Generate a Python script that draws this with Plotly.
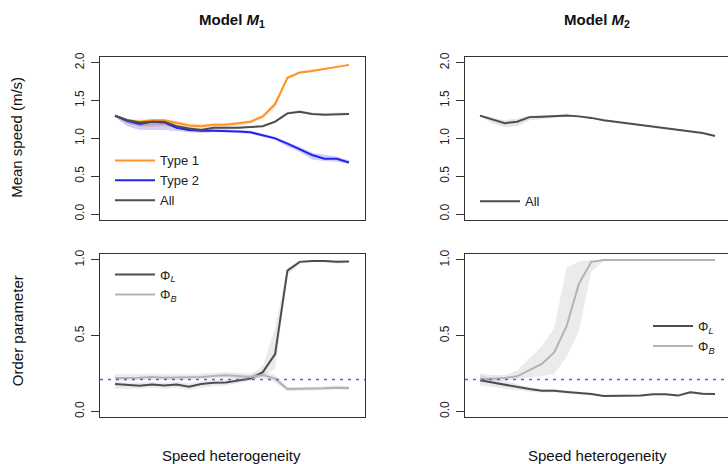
import plotly.graph_objects as go

# ---------------- data ----------------
het = [0, 1, 2, 3, 4, 5, 6, 7, 8, 9, 10, 11, 12, 13, 14, 15, 16, 17, 18, 19]

# Model M1 - mean speed
type1 = [1.30, 1.24, 1.22, 1.24, 1.24, 1.20, 1.17, 1.16, 1.18, 1.18, 1.20, 1.22, 1.29, 1.45, 1.80, 1.87, 1.89, 1.92, 1.94, 1.97]
type1_lo = [1.28, 1.19, 1.15, 1.15, 1.16, 1.14, 1.13, 1.12, 1.14, 1.15, 1.17, 1.20, 1.26, 1.40, 1.77, 1.85, 1.88, 1.91, 1.93, 1.96]
type1_hi = [1.31, 1.26, 1.25, 1.26, 1.26, 1.23, 1.20, 1.19, 1.20, 1.20, 1.22, 1.24, 1.31, 1.50, 1.82, 1.89, 1.91, 1.93, 1.95, 1.98]

type2 = [1.30, 1.23, 1.19, 1.22, 1.21, 1.14, 1.11, 1.10, 1.10, 1.10, 1.09, 1.08, 1.04, 1.00, 0.93, 0.86, 0.78, 0.73, 0.73, 0.68]
type2_lo = [1.28, 1.16, 1.11, 1.11, 1.11, 1.09, 1.08, 1.07, 1.08, 1.08, 1.07, 1.06, 1.02, 0.98, 0.89, 0.82, 0.72, 0.70, 0.69, 0.66]
type2_hi = [1.31, 1.25, 1.22, 1.23, 1.22, 1.16, 1.13, 1.12, 1.12, 1.12, 1.11, 1.10, 1.06, 1.02, 0.95, 0.89, 0.81, 0.78, 0.76, 0.71]

all_m1 = [1.30, 1.24, 1.21, 1.22, 1.22, 1.16, 1.13, 1.11, 1.14, 1.14, 1.14, 1.15, 1.16, 1.22, 1.33, 1.35, 1.32, 1.31, 1.32, 1.32]
all_m1_lo = [1.28, 1.20, 1.16, 1.17, 1.18, 1.13, 1.11, 1.09, 1.12, 1.12, 1.13, 1.14, 1.15, 1.20, 1.31, 1.33, 1.31, 1.30, 1.31, 1.31]
all_m1_hi = [1.31, 1.26, 1.23, 1.24, 1.24, 1.18, 1.15, 1.13, 1.15, 1.15, 1.16, 1.16, 1.18, 1.24, 1.35, 1.37, 1.34, 1.33, 1.34, 1.34]

# Model M2 - mean speed
all_m2 = [1.30, 1.255, 1.20, 1.22, 1.28, 1.285, 1.29, 1.30, 1.29, 1.27, 1.24, 1.22, 1.20, 1.18, 1.16, 1.14, 1.11, 1.09, 1.07, 1.03]
all_m2_lo = [1.29, 1.20, 1.15, 1.16, 1.24, 1.26, 1.27, 1.28, 1.28, 1.26, 1.235, 1.215, 1.195, 1.175, 1.155, 1.135, 1.105, 1.085, 1.065, 1.025]
all_m2_hi = [1.31, 1.27, 1.24, 1.26, 1.30, 1.30, 1.30, 1.31, 1.30, 1.28, 1.245, 1.225, 1.205, 1.185, 1.165, 1.145, 1.115, 1.095, 1.075, 1.035]

# Model M1 - order parameters
phiL_m1 = [0.180, 0.173, 0.169, 0.177, 0.171, 0.177, 0.162, 0.180, 0.188, 0.190, 0.205, 0.216, 0.259, 0.378, 0.929, 0.987, 0.992, 0.992, 0.987, 0.990]
phiL_m1_lo = [0.15, 0.15, 0.15, 0.155, 0.15, 0.155, 0.14, 0.155, 0.165, 0.17, 0.185, 0.20, 0.23, 0.28, 0.90, 0.975, 0.985, 0.985, 0.975, 0.98]
phiL_m1_hi = [0.20, 0.19, 0.19, 0.195, 0.19, 0.195, 0.185, 0.20, 0.21, 0.21, 0.225, 0.24, 0.30, 0.55, 0.95, 0.995, 0.998, 0.998, 0.995, 0.997]
phiB_m1 = [0.220, 0.220, 0.222, 0.227, 0.222, 0.224, 0.224, 0.227, 0.233, 0.238, 0.233, 0.227, 0.240, 0.216, 0.147, 0.147, 0.147, 0.152, 0.156, 0.154]
phiB_m1_lo = [0.20, 0.20, 0.205, 0.21, 0.205, 0.205, 0.205, 0.21, 0.215, 0.22, 0.215, 0.21, 0.22, 0.19, 0.135, 0.135, 0.135, 0.14, 0.145, 0.14]
phiB_m1_hi = [0.245, 0.245, 0.245, 0.25, 0.245, 0.245, 0.245, 0.25, 0.255, 0.26, 0.255, 0.25, 0.265, 0.24, 0.16, 0.16, 0.16, 0.165, 0.17, 0.165]

# Model M2 - order parameters
phiL_m2 = [0.205, 0.190, 0.177, 0.160, 0.147, 0.136, 0.136, 0.128, 0.123, 0.115, 0.102, 0.102, 0.104, 0.104, 0.113, 0.113, 0.104, 0.126, 0.117, 0.115]
phiL_m2_lo = [0.17, 0.16, 0.15, 0.14, 0.13, 0.125, 0.125, 0.118, 0.115, 0.108, 0.096, 0.096, 0.098, 0.098, 0.106, 0.106, 0.098, 0.118, 0.110, 0.108]
phiL_m2_hi = [0.24, 0.22, 0.20, 0.18, 0.16, 0.148, 0.148, 0.138, 0.132, 0.123, 0.109, 0.109, 0.111, 0.111, 0.120, 0.120, 0.111, 0.134, 0.124, 0.122]
phiB_m2 = [0.212, 0.216, 0.220, 0.231, 0.270, 0.313, 0.389, 0.562, 0.843, 0.987, 1.0, 1.0, 1.0, 1.0, 1.0, 1.0, 1.0, 1.0, 1.0, 1.0]
phiB_m2_lo = [0.19, 0.20, 0.205, 0.21, 0.22, 0.235, 0.245, 0.36, 0.53, 0.92, 0.995, 1.0, 1.0, 1.0, 1.0, 1.0, 1.0, 1.0, 1.0, 1.0]
phiB_m2_hi = [0.25, 0.24, 0.24, 0.27, 0.35, 0.43, 0.55, 0.95, 0.99, 1.0, 1.0, 1.0, 1.0, 1.0, 1.0, 1.0, 1.0, 1.0, 1.0, 1.0]

random_level = 0.21

y_ticks_speed = [0.0, 0.5, 1.0, 1.5, 2.0]
y_ticks_order = [0.0, 0.5, 1.0]

# ---------------- style ----------------
ORANGE = "#FF9326"
BLUE = "#2424EE"
DARK = "#4D4D4D"
LIGHT = "#B3B3B3"
FONT = "Liberation Sans"

fig = go.Figure()


def band(x, lo, hi, color, xa, ya):
    fig.add_trace(go.Scatter(
        x=list(x) + list(x)[::-1], y=list(hi) + list(lo)[::-1],
        fill="toself", fillcolor=color, line=dict(width=0),
        mode="lines", hoverinfo="skip", showlegend=False,
        xaxis=xa, yaxis=ya))


def line(x, y, color, name, xa, ya, legend):
    fig.add_trace(go.Scatter(
        x=x, y=y, mode="lines", name=name,
        line=dict(color=color, width=2),
        xaxis=xa, yaxis=ya, legend=legend))


# top-left
band(het, type1_lo, type1_hi, "rgba(255,147,38,0.25)", "x", "y")
band(het, type2_lo, type2_hi, "rgba(36,36,238,0.22)", "x", "y")
band(het, all_m1_lo, all_m1_hi, "rgba(0,0,0,0.10)", "x", "y")
line(het, type1, ORANGE, "Type 1", "x", "y", "legend")
line(het, type2, BLUE, "Type 2", "x", "y", "legend")
line(het, all_m1, DARK, "All", "x", "y", "legend")

# top-right
band(het, all_m2_lo, all_m2_hi, "rgba(0,0,0,0.10)", "x2", "y2")
line(het, all_m2, DARK, "All", "x2", "y2", "legend2")

# bottom-left
band(het, phiL_m1_lo, phiL_m1_hi, "rgba(0,0,0,0.08)", "x3", "y3")
band(het, phiB_m1_lo, phiB_m1_hi, "rgba(0,0,0,0.08)", "x3", "y3")
line(het, phiL_m1, DARK, "Φ<sub><i>L</i></sub>", "x3", "y3", "legend3")
line(het, phiB_m1, LIGHT, "Φ<sub><i>B</i></sub>", "x3", "y3", "legend3")

# bottom-right
band(het, phiL_m2_lo, phiL_m2_hi, "rgba(0,0,0,0.08)", "x4", "y4")
band(het, phiB_m2_lo, phiB_m2_hi, "rgba(0,0,0,0.08)", "x4", "y4")
line(het, phiL_m2, DARK, "Φ<sub><i>L</i></sub>", "x4", "y4", "legend4")
line(het, phiB_m2, LIGHT, "Φ<sub><i>B</i></sub>", "x4", "y4", "legend4")

# random-level reference lines
for xa, ya in (("x3", "y3"), ("x4", "y4")):
    fig.add_shape(type="line", xref=f"{xa} domain", yref=ya,
                  x0=0, x1=1, y0=random_level, y1=random_level,
                  line=dict(color="#5B5BF2", width=1.5, dash="3px,5px"))

W, H = 728, 464
xl = [100 / W, 365 / W]
xr = [465 / W, 1.0]
yt = [1 - 218 / H, 1 - 53 / H]
yb = [1 - 417 / H, 1 - 252 / H]

axline = dict(showline=True, linecolor="#333333", linewidth=1.3, showgrid=False, zeroline=False)
xcommon = dict(axline, showticklabels=False, ticks="", mirror=True)


def yax(ticks, rng, dom, anchor, mirror):
    return dict(axline, domain=dom, anchor=anchor, range=rng, mirror=mirror,
                tickvals=ticks, ticktext=[f"{t:.1f}" for t in ticks],
                ticks="outside", ticklen=8, tickwidth=1.2, tickcolor="#333333",
                tickangle=-90, ticklabelstandoff=2,
                tickfont=dict(size=12, color="#222222", family=FONT))


fig.update_layout(
    width=W, height=H,
    margin=dict(l=0, r=0, t=0, b=0),
    paper_bgcolor="white", plot_bgcolor="white",
    font=dict(family=FONT, color="#111111"),
    xaxis=dict(xcommon, domain=xl, anchor="y", range=[-1.22, 20.3]),
    xaxis2=dict(xcommon, domain=xr, anchor="y2", range=[-1.21, 20.05]),
    xaxis3=dict(xcommon, domain=xl, anchor="y3", range=[-1.22, 20.3]),
    xaxis4=dict(xcommon, domain=xr, anchor="y4", range=[-1.21, 20.05]),
    yaxis=yax(y_ticks_speed, [-0.08, 2.08], yt, "x", True),
    yaxis2=yax(y_ticks_speed, [-0.08, 2.08], yt, "x2", False),
    yaxis3=yax(y_ticks_order, [-0.04, 1.04], yb, "x3", True),
    yaxis4=yax(y_ticks_order, [-0.04, 1.04], yb, "x4", False),
)

leg_common = dict(bgcolor="rgba(0,0,0,0)", borderwidth=0, font=dict(size=13, family=FONT, color="#222222"),
                  xanchor="left", yanchor="middle", itemwidth=40, tracegroupgap=0)
fig.update_layout(
    legend=dict(leg_common, x=110 / W, y=1 - 178 / H),
    legend2=dict(leg_common, x=475 / W, y=1 - 199 / H),
    legend3=dict(leg_common, x=110 / W, y=1 - 283 / H),
    legend4=dict(leg_common, x=648 / W, y=1 - 335 / H),
)

# titles
ann = [
    dict(text="<b>Model <i>M</i><sub>1</sub></b>", x=232 / W, y=1 - 17 / H),
    dict(text="<b>Model <i>M</i><sub>2</sub></b>", x=597 / W, y=1 - 17 / H),
    dict(text="Speed heterogeneity", x=232 / W, y=1 - 455 / H),
    dict(text="Speed heterogeneity", x=597 / W, y=1 - 455 / H),
]
for a in ann:
    fig.add_annotation(xref="paper", yref="paper", showarrow=False,
                       xanchor="center", yanchor="middle",
                       font=dict(size=15, family=FONT, color="#111111"), **a)
for txt, yc in (("Mean speed (m/s)", 135), ("Order parameter", 330)):
    fig.add_annotation(xref="paper", yref="paper", showarrow=False, text=txt,
                       x=17 / W, y=1 - yc / H, xanchor="center", yanchor="middle",
                       textangle=-90, font=dict(size=15, family=FONT, color="#111111"))

fig.write_html("out.html")
